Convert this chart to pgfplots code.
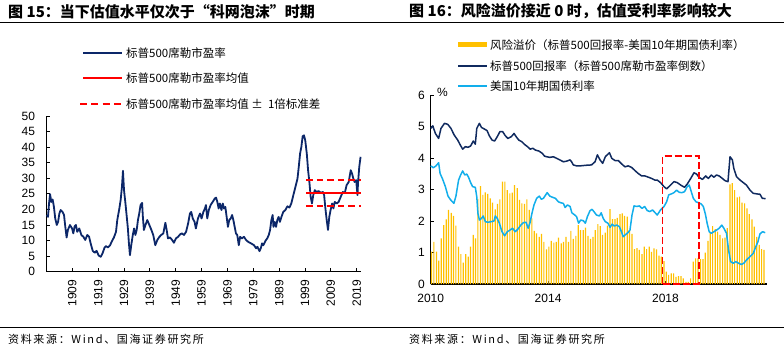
\documentclass[border=0pt]{standalone}
\usepackage{fontspec}
\setmainfont{Liberation Sans}
\newfontfamily\cjk{Noto Sans CJK SC}
\usepackage{pgfplots}
\pgfplotsset{compat=1.18}
\definecolor{navy}{HTML}{0C2769}
\definecolor{navyb}{HTML}{102A5F}
\definecolor{sky}{HTML}{12AEEB}
\definecolor{gold}{HTML}{FFC000}

\pgfplotstableread{
x y
1899.1 18.2
1899.6 17.6
1900.0 21.9
1900.4 24.9
1900.9 22.4
1901.4 23.2
1901.9 20.8
1902.4 17.1
1903.0 15.0
1903.5 16.0
1904.0 18.7
1904.5 19.8
1905.2 19.2
1905.8 18.2
1906.3 14.4
1906.8 11.0
1907.3 13.4
1908.1 15.0
1908.9 13.9
1909.4 12.3
1909.9 14.6
1910.4 15.0
1910.9 12.8
1911.7 13.9
1912.5 11.8
1913.3 11.2
1914.0 10.2
1914.8 11.8
1915.5 11.2
1916.1 9.1
1916.9 6.7
1917.7 6.1
1918.4 6.7
1919.2 5.2
1920.0 4.8
1920.7 5.9
1921.5 7.8
1922.0 8.2
1922.8 7.8
1923.6 8.5
1924.4 9.9
1925.1 11.0
1925.9 12.8
1926.4 16.6
1927.2 20.3
1927.7 23.0
1928.2 27.2
1928.6 32.4
1929.0 26.2
1929.5 22.4
1930.0 18.2
1930.5 13.9
1930.9 9.1
1931.3 5.3
1931.8 8.5
1932.4 11.8
1932.9 13.9
1933.4 11.8
1933.9 13.4
1934.4 16.6
1934.9 18.7
1935.4 21.4
1936.0 22.1
1936.3 17.6
1936.7 13.4
1937.3 15.0
1938.0 16.6
1938.8 15.0
1939.6 13.4
1940.3 11.8
1941.1 8.5
1941.9 10.2
1942.7 11.2
1943.4 11.8
1944.2 12.3
1945.0 15.7
1945.5 13.4
1946.0 10.7
1946.8 11.0
1947.6 10.2
1948.3 9.3
1949.1 10.7
1949.9 11.2
1950.7 12.0
1951.4 12.3
1952.2 11.8
1953.0 12.8
1953.8 15.5
1954.5 18.7
1955.0 19.2
1955.6 17.1
1956.3 16.0
1956.8 13.9
1957.6 17.1
1958.4 18.7
1959.0 17.1
1959.7 19.2
1960.3 20.3
1960.7 21.4
1961.2 17.1
1961.8 19.8
1962.5 21.4
1963.3 22.4
1964.1 23.5
1964.6 23.8
1965.1 22.4
1965.6 20.3
1966.1 21.9
1966.7 19.8
1967.2 21.9
1967.7 20.3
1968.2 20.8
1968.7 17.6
1969.2 14.4
1969.7 16.6
1970.3 17.1
1970.8 18.2
1971.3 16.6
1971.8 14.4
1972.3 12.3
1972.8 11.8
1973.4 8.5
1973.9 11.2
1974.6 10.7
1975.4 11.2
1976.2 10.2
1977.0 9.6
1977.7 9.3
1978.5 8.9
1979.3 8.5
1980.1 7.5
1980.6 8.0
1981.4 6.6
1981.9 7.5
1982.4 9.1
1982.9 8.5
1983.7 9.9
1984.4 10.7
1985.0 11.8
1985.5 13.4
1986.0 16.6
1986.5 18.2
1986.8 14.4
1987.3 16.0
1987.8 14.4
1988.3 16.6
1988.8 17.6
1989.3 16.0
1989.9 17.6
1990.6 19.2
1991.4 19.8
1992.2 21.0
1993.0 20.6
1993.7 21.9
1994.5 24.6
1995.3 27.2
1996.1 29.9
1996.6 33.7
1997.1 37.9
1997.6 40.1
1998.1 43.5
1998.6 43.8
1999.1 42.2
1999.7 37.9
2000.2 32.6
2000.7 28.8
2001.2 24.0
2001.7 21.9
2002.2 24.6
2002.8 26.2
2003.5 25.6
2004.3 25.9
2005.1 25.3
2005.9 25.6
2006.4 24.6
2006.9 20.3
2007.4 16.6
2007.9 13.4
2008.4 17.6
2008.9 19.8
2009.5 21.9
2010.0 20.3
2010.5 22.4
2011.3 21.9
2012.0 22.4
2012.8 24.0
2013.6 25.6
2014.4 25.3
2015.1 27.8
2015.9 28.8
2016.7 32.6
2017.2 31.5
2017.7 29.9
2018.2 28.8
2018.8 29.4
2019.3 24.6
2019.5 28.3
2020.0 33.7
2020.5 36.9
}\cape

\pgfplotstableread{
x y
2010.00 1.03
2010.08 1.34
2010.17 1.03
2010.25 0.74
2010.33 1.45
2010.42 1.87
2010.50 2.05
2010.58 2.35
2010.67 2.26
2010.75 2.16
2010.83 1.85
2010.92 1.19
2011.00 0.95
2011.08 0.68
2011.17 0.95
2011.25 0.87
2011.33 1.19
2011.42 1.56
2011.50 1.45
2011.58 2.70
2011.67 3.11
2011.75 2.83
2011.83 2.91
2011.92 2.86
2012.00 2.72
2012.08 2.58
2012.17 2.37
2012.25 2.54
2012.33 2.69
2012.42 3.25
2012.50 3.25
2012.58 2.98
2012.67 2.88
2012.75 2.90
2012.83 3.14
2012.92 3.04
2013.00 2.67
2013.08 2.56
2013.17 2.54
2013.25 2.69
2013.33 2.35
2013.42 2.08
2013.50 1.69
2013.58 1.61
2013.67 1.50
2013.75 1.59
2013.83 1.34
2013.92 1.10
2014.00 1.19
2014.08 1.37
2014.17 1.31
2014.25 1.34
2014.33 1.47
2014.42 1.29
2014.50 1.34
2014.58 1.50
2014.67 1.34
2014.75 1.69
2014.83 1.43
2014.92 1.53
2015.00 1.87
2015.08 1.71
2015.17 1.71
2015.25 1.79
2015.33 1.53
2015.42 1.43
2015.50 1.50
2015.58 1.71
2015.67 1.90
2015.75 1.84
2015.83 1.56
2015.92 1.63
2016.00 1.85
2016.08 2.38
2016.17 2.06
2016.25 2.06
2016.33 2.10
2016.42 2.22
2016.50 2.24
2016.58 2.16
2016.67 2.14
2016.75 1.71
2016.83 1.59
2016.92 1.11
2017.00 1.14
2017.08 1.08
2017.17 0.95
2017.25 1.19
2017.33 1.11
2017.42 1.19
2017.50 1.02
2017.58 1.13
2017.67 1.10
2017.75 0.90
2017.83 0.87
2017.92 0.73
2018.00 0.39
2018.08 0.29
2018.17 0.34
2018.25 0.34
2018.33 0.23
2018.42 0.25
2018.50 0.25
2018.58 0.18
2018.67 0.07
2018.75 0.07
2018.83 0.18
2018.92 0.71
2019.00 0.81
2019.08 0.81
2019.17 0.79
2019.25 0.79
2019.33 1.00
2019.42 1.37
2019.50 1.63
2019.58 1.84
2019.67 1.74
2019.75 1.66
2019.83 1.56
2019.92 1.45
2020.00 1.47
2020.08 1.77
2020.17 3.16
2020.25 3.20
2020.33 2.98
2020.42 2.75
2020.50 2.77
2020.58 2.58
2020.67 2.56
2020.75 2.40
2020.83 2.22
2020.92 2.05
2021.00 1.82
2021.08 1.50
2021.17 1.24
2021.25 1.11
2021.33 1.08
}\premium

\pgfplotstableread{
x y
2010.00 4.94
2010.07 5.02
2010.16 4.78
2010.27 4.62
2010.35 4.94
2010.47 5.10
2010.58 5.07
2010.69 4.94
2010.80 4.73
2010.92 4.57
2011.01 4.41
2011.09 4.28
2011.18 4.36
2011.27 4.34
2011.36 4.38
2011.45 4.54
2011.52 4.44
2011.57 4.94
2011.66 5.10
2011.73 4.97
2011.83 4.92
2011.92 4.87
2012.00 4.70
2012.09 4.57
2012.18 4.54
2012.27 4.68
2012.36 4.84
2012.45 4.84
2012.54 4.71
2012.63 4.62
2012.75 4.68
2012.84 4.78
2012.91 4.68
2013.00 4.57
2013.10 4.52
2013.20 4.43
2013.30 4.36
2013.39 4.28
2013.48 4.31
2013.57 4.25
2013.69 4.22
2013.80 4.15
2013.88 4.06
2013.95 4.04
2014.06 4.02
2014.18 4.04
2014.29 3.99
2014.40 3.94
2014.52 3.88
2014.63 3.90
2014.75 3.94
2014.80 3.88
2014.86 3.78
2014.97 3.75
2015.09 3.75
2015.20 3.76
2015.31 3.77
2015.48 3.78
2015.60 3.88
2015.68 4.10
2015.77 3.94
2015.86 3.83
2015.95 4.04
2016.09 4.17
2016.17 3.99
2016.28 3.92
2016.39 3.92
2016.51 3.81
2016.62 3.72
2016.73 3.75
2016.85 3.70
2016.96 3.60
2017.07 3.51
2017.19 3.43
2017.30 3.43
2017.42 3.39
2017.53 3.35
2017.64 3.30
2017.72 3.30
2017.83 3.22
2017.95 3.09
2018.04 3.02
2018.15 3.12
2018.29 3.25
2018.40 3.22
2018.52 3.14
2018.65 3.07
2018.74 3.17
2018.86 3.35
2018.97 3.53
2019.06 3.49
2019.14 3.39
2019.26 3.32
2019.37 3.43
2019.46 3.35
2019.56 3.46
2019.65 3.39
2019.74 3.46
2019.83 3.43
2019.94 3.35
2020.03 3.28
2020.13 3.25
2020.20 4.04
2020.28 3.94
2020.33 3.67
2020.42 3.41
2020.54 3.30
2020.65 3.22
2020.76 3.14
2020.88 2.98
2020.99 2.88
2021.11 2.86
2021.22 2.85
2021.30 2.72
2021.41 2.71
}\eyield

\pgfplotstableread{
x y
2010.00 3.75
2010.09 3.69
2010.18 3.75
2010.27 3.85
2010.32 3.51
2010.41 3.32
2010.50 3.09
2010.59 2.79
2010.68 2.67
2010.79 2.56
2010.86 2.79
2010.95 3.30
2011.02 3.46
2011.09 3.59
2011.16 3.46
2011.23 3.49
2011.29 3.39
2011.36 3.22
2011.43 3.09
2011.52 3.07
2011.57 2.77
2011.61 2.24
2011.66 2.03
2011.73 2.08
2011.79 2.16
2011.86 1.98
2011.95 1.96
2012.07 1.98
2012.16 2.00
2012.20 2.16
2012.27 2.08
2012.34 1.93
2012.43 1.66
2012.52 1.53
2012.61 1.66
2012.70 1.71
2012.79 1.77
2012.88 1.66
2012.97 1.74
2013.07 1.87
2013.16 1.95
2013.25 1.96
2013.32 1.77
2013.38 1.93
2013.45 2.24
2013.52 2.51
2013.61 2.72
2013.70 2.79
2013.77 2.69
2013.84 2.72
2013.89 2.79
2013.97 2.90
2014.06 2.79
2014.16 2.75
2014.25 2.72
2014.35 2.61
2014.43 2.58
2014.52 2.56
2014.58 2.43
2014.66 2.51
2014.75 2.46
2014.81 2.26
2014.91 2.19
2014.97 2.14
2015.04 1.93
2015.11 2.03
2015.20 2.01
2015.27 1.93
2015.34 2.14
2015.43 2.33
2015.50 2.37
2015.56 2.30
2015.65 2.19
2015.75 2.16
2015.81 2.26
2015.88 2.08
2015.95 1.98
2016.04 1.93
2016.11 1.80
2016.18 1.90
2016.25 1.84
2016.34 1.87
2016.43 1.82
2016.50 1.66
2016.56 1.50
2016.63 1.56
2016.72 1.63
2016.79 1.71
2016.86 2.19
2016.93 2.48
2017.02 2.46
2017.11 2.48
2017.20 2.40
2017.29 2.46
2017.38 2.33
2017.47 2.30
2017.56 2.35
2017.65 2.26
2017.72 2.19
2017.83 2.35
2017.95 2.46
2018.04 2.61
2018.11 2.83
2018.20 2.86
2018.29 2.90
2018.38 2.98
2018.47 2.91
2018.56 2.90
2018.65 2.93
2018.74 3.09
2018.81 3.14
2018.88 2.93
2018.95 2.72
2019.04 2.61
2019.13 2.58
2019.22 2.54
2019.29 2.46
2019.36 2.22
2019.42 1.93
2019.49 1.66
2019.56 1.61
2019.65 1.66
2019.74 1.71
2019.83 1.77
2019.92 1.87
2019.99 1.77
2020.08 1.61
2020.15 1.08
2020.22 0.71
2020.31 0.66
2020.40 0.71
2020.49 0.66
2020.58 0.62
2020.67 0.66
2020.76 0.76
2020.88 0.87
2020.99 0.97
2021.08 1.19
2021.15 1.34
2021.22 1.59
2021.31 1.66
2021.40 1.63
}\tnote

\begin{document}
\begin{tikzpicture}[x=1pt,y=1pt]
\useasboundingbox (0pt,0pt) rectangle (784pt,351pt);
% titles and rules
\node[anchor=west, inner sep=0] at (8pt,339.5pt) {\cjk\bfseries\fontsize{15}{15}\selectfont 图 15：当下估值水平仅次于“科网泡沫”时期};
\node[anchor=west, inner sep=0] at (409pt,339.5pt) {\cjk\bfseries\fontsize{15}{15}\selectfont 图 16：风险溢价接近 0 时，估值受利率影响较大};
\draw[line width=1pt] (0pt,328.3pt) -- (784pt,328.3pt);
\draw[line width=1pt] (0pt,23.3pt) -- (784pt,23.3pt);
\node[anchor=west, inner sep=0] at (8pt,12pt) {\cjk\addfontfeature{LetterSpace=15}\fontsize{11}{11}\selectfont 资料来源：Wind、国海证券研究所};
\node[anchor=west, inner sep=0] at (409pt,12pt) {\cjk\addfontfeature{LetterSpace=15}\fontsize{11}{11}\selectfont 资料来源：Wind、国海证券研究所};

% left legend
\draw[navy, line width=2pt] (83pt,297.7pt) -- (122pt,297.7pt);
\node[anchor=west, inner sep=0] at (126pt,297.7pt) {\cjk\fontsize{11.5}{11.5}\selectfont 标普500席勒市盈率};
\draw[red, line width=2pt] (83pt,273.3pt) -- (122pt,273.3pt);
\node[anchor=west, inner sep=0] at (126pt,273.3pt) {\cjk\fontsize{11.5}{11.5}\selectfont 标普500席勒市盈率均值};
\draw[red, line width=2pt, dash pattern=on 7pt off 4.3pt] (80pt,246.7pt) -- (122pt,246.7pt);
\node[anchor=west, inner sep=0] at (126pt,246.7pt) {\cjk\fontsize{11.5}{11.5}\selectfont 标普500席勒市盈率均值 ± \ 1倍标准差};

% right legend
\draw[gold, line width=5pt] (458pt,306pt) -- (487pt,306pt);
\node[anchor=west, inner sep=0] at (490pt,306pt) {\cjk\fontsize{11.5}{11.5}\selectfont 风险溢价（标普500回报率-美国10年期国债利率）};
\draw[navyb, line width=2pt] (458pt,285.3pt) -- (487pt,285.3pt);
\node[anchor=west, inner sep=0] at (490pt,285.3pt) {\cjk\fontsize{11.5}{11.5}\selectfont 标普500回报率（标普500席勒市盈率倒数）};
\draw[sky, line width=2pt] (458pt,265pt) -- (487pt,265pt);
\node[anchor=west, inner sep=0] at (490pt,265pt) {\cjk\fontsize{11.5}{11.5}\selectfont 美国10年期国债利率};
\node[anchor=center, inner sep=0] at (442.5pt,259pt) {\fontsize{12}{12}\selectfont \%};

\begin{axis}[at={(46.7pt,79.3pt)}, anchor=south west, scale only axis,
  width=314pt, height=155.7pt,
  xmin=1899.1, xmax=2020.55, ymin=0, ymax=50,
  axis x line*=bottom, axis y line*=left,
  axis line style={line width=1.1pt, black},
  xtick={1909,1919,1929,1939,1949,1959,1969,1979,1989,1999,2009,2019},
  ytick={0,5,...,50},
  tick align=inside, major tick length=3.5pt,
  tick style={black, line width=0.8pt},
  ticklabel style={font=\fontsize{12}{12}\selectfont, inner sep=0pt},
  xticklabel style={rotate=90, anchor=east},
  xticklabel shift=8pt, yticklabel shift=11.5pt,
  /pgf/number format/1000 sep={},
  /pgf/number format/assume math mode=true,
  clip=false]
\addplot[navy, line width=1.8pt, line join=round] table {\cape};
\addplot[red, line width=1.8pt] coordinates {(1999.5,25.4) (2020.8,25.4)};
\addplot[red, line width=1.8pt, dash pattern=on 6.5pt off 4pt] coordinates {(1999.5,29.4) (2020.8,29.4)};
\addplot[red, line width=1.8pt, dash pattern=on 6.5pt off 4pt] coordinates {(1999.5,21.2) (2020.8,21.2)};
\end{axis}

\begin{axis}[at={(430.7pt,67pt)}, anchor=south west, scale only axis,
  width=336pt, height=189pt,
  xmin=2010, xmax=2021.45, ymin=0, ymax=6,
  axis x line*=bottom, axis y line*=left,
  axis line style={line width=1.1pt, black},
  xtick={2010,2014,2018}, ytick={0,1,...,6},
  tick align=inside, major tick length=3.5pt,
  tick style={black, line width=0.8pt},
  ticklabel style={font=\fontsize{12}{12}\selectfont, inner sep=0pt},
  xticklabel shift=10pt, yticklabel shift=5.7pt,
  /pgf/number format/1000 sep={},
  /pgf/number format/assume math mode=true,
  clip=false]
\addplot[ybar, bar width=1.2pt, bar shift=0.8pt, fill=gold, draw=none] table {\premium};
\addplot[navyb, line width=1.5pt, line join=round] table {\eyield};
\addplot[sky, line width=1.5pt, line join=round] table {\tnote};
\addplot[red, line width=1.8pt, dash pattern=on 7pt off 3pt] coordinates {(2017.9,0) (2017.9,4.06) (2019.13,4.06) (2019.13,0) (2017.9,0)};
\end{axis}
\end{tikzpicture}
\end{document}
